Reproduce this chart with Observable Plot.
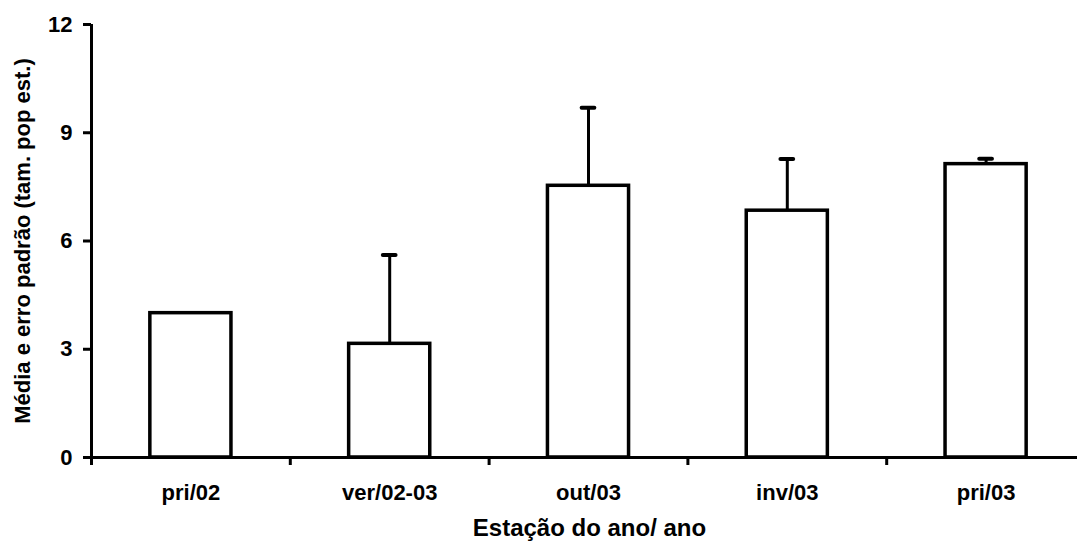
<!DOCTYPE html>
<html>
<head>
<meta charset="utf-8">
<script src="https://cdn.jsdelivr.net/npm/d3@7"></script>
<script src="https://cdn.jsdelivr.net/npm/@observablehq/plot@0.6"></script>
<style>
  html, body { margin: 0; padding: 0; background: #fff; }
  #chart svg { display: block; }
</style>
</head>
<body>
<div id="chart"></div>
<script>
const categories = ["pri/02", "ver/02-03", "out/03", "inv/03", "pri/03"];
const means = [4.0, 3.15, 7.53, 6.84, 8.13];
const upperErrors = [4.0, 5.61, 9.69, 8.27, 8.28];
const yTicks = [0, 3, 6, 9, 12];
const yTitle = "Média e erro padrão (tam. pop est.)";
const xTitle = "Estação do ano/ ano";

const data = categories.map((c, i) => ({cat: c, i, mean: means[i], upper: upperErrors[i]}));
const errData = data.filter(d => d.upper > d.mean);
const halfBar = 0.204;
const halfCap = 0.032;
const font = "'Liberation Sans', Arial, sans-serif";

const chart = Plot.plot({
  width: 1077,
  height: 549,
  marginLeft: 91,
  marginRight: 0,
  marginTop: 24,
  marginBottom: 92,
  style: {fontFamily: font, fontWeight: "bold", color: "black", background: "white"},
  x: {domain: [0, categories.length], range: [91, 1085]},
  y: {domain: [0, 12]},
  marks: [
    Plot.rectY(data, {
      x1: d => d.i + 0.5 - halfBar,
      x2: d => d.i + 0.5 + halfBar,
      y: "mean",
      fill: "white",
      stroke: "black",
      strokeWidth: 3.5
    }),
    Plot.ruleX(errData, {x: d => d.i + 0.5, y1: "mean", y2: "upper", stroke: "black", strokeWidth: 3}),
    Plot.ruleY(errData, {x1: d => d.i + 0.5 - halfCap, x2: d => d.i + 0.5 + halfCap, y: "upper", stroke: "black", strokeWidth: 4, strokeLinecap: "round"}),
    Plot.ruleY([0], {stroke: "black", strokeWidth: 3}),
    Plot.ruleX([0], {stroke: "black", strokeWidth: 3}),
    Plot.axisY({ticks: yTicks, tickSize: 8, tickPadding: 11, fontSize: 22, fontWeight: "bold", strokeWidth: 3, label: null}),
    Plot.axisX({ticks: d3.range(0, categories.length + 1), tickSize: 8, tickFormat: () => "", strokeWidth: 3, label: null}),
    Plot.axisX({ticks: categories.map((c, i) => i + 0.5), tickSize: 0, tickPadding: 27, tickFormat: d => categories[Math.round(d - 0.5)], fontSize: 22, fontWeight: "bold", label: null}),
    Plot.text([yTitle], {frameAnchor: "left", rotate: -90, textAnchor: "middle", dx: -69, fontSize: 22, fontWeight: "bold", fill: "black"}),
    Plot.text([xTitle], {frameAnchor: "bottom", textAnchor: "middle", dx: 5, dy: 78, fontSize: 24, fontWeight: "bold", fill: "black"})
  ]
});
document.getElementById("chart").appendChild(chart);
</script>
</body>
</html>
